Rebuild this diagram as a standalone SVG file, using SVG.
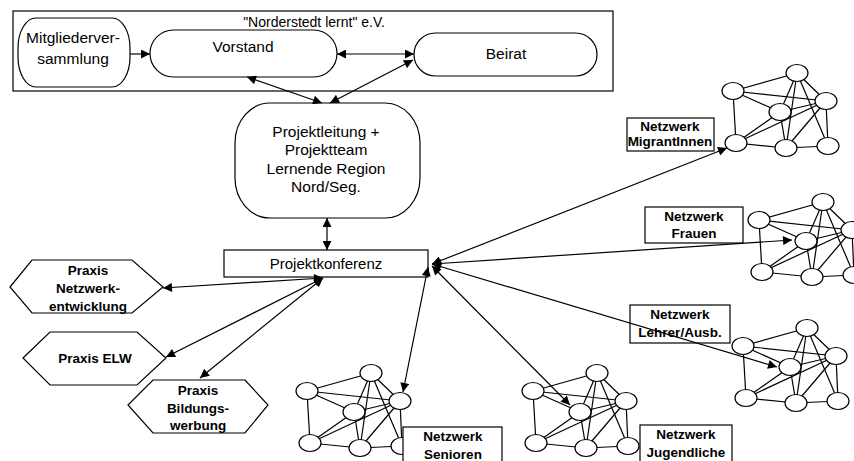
<svg xmlns="http://www.w3.org/2000/svg" xmlns:xlink="http://www.w3.org/1999/xlink" width="854" height="461" viewBox="0 0 854 461">
<style>
.s{fill:#fff;stroke:#000;stroke-width:1.2}
.n{fill:none;stroke:#000;stroke-width:1.2}
.t{font-family:"Liberation Sans",Arial,sans-serif;font-size:15.5px;fill:#000;text-anchor:middle}
.b{font-family:"Liberation Sans",Arial,sans-serif;font-size:13.5px;font-weight:bold;fill:#000;text-anchor:middle}
.c line{stroke:#000;stroke-width:1.2;marker-end:url(#ah)}
.c .d{marker-start:url(#ah)}
.g line{stroke:#000;stroke-width:1.2}
.g ellipse{fill:#fff;stroke:#000;stroke-width:1.2}
</style>
<defs>
<marker id="ah" viewBox="0 0 10 10" refX="10" refY="5" markerWidth="11" markerHeight="9" markerUnits="userSpaceOnUse" orient="auto-start-reverse"><path d="M0,0 L10,5 L0,10 z" fill="#000"/></marker>
<g id="net" class="g">
<line x1="64" y1="0" x2="0" y2="18"/>
<line x1="0" y1="18" x2="93" y2="28"/>
<line x1="0" y1="18" x2="47" y2="39"/>
<line x1="0" y1="18" x2="3" y2="70"/>
<line x1="64" y1="0" x2="47" y2="39"/>
<line x1="64" y1="0" x2="93" y2="28"/>
<line x1="64" y1="0" x2="53" y2="75"/>
<line x1="64" y1="0" x2="95" y2="73"/>
<line x1="93" y1="28" x2="47" y2="39"/>
<line x1="93" y1="28" x2="3" y2="70"/>
<line x1="93" y1="28" x2="53" y2="75"/>
<line x1="93" y1="28" x2="95" y2="73"/>
<line x1="47" y1="39" x2="3" y2="70"/>
<line x1="47" y1="39" x2="53" y2="75"/>
<line x1="3" y1="70" x2="53" y2="75"/>
<line x1="53" y1="75" x2="95" y2="73"/>
<ellipse cx="64" cy="0" rx="11" ry="8.5"/>
<ellipse cx="0" cy="18" rx="11" ry="8.5"/>
<ellipse cx="93" cy="28" rx="11" ry="8.5"/>
<ellipse cx="47" cy="39" rx="11" ry="8.5"/>
<ellipse cx="3" cy="70" rx="11" ry="8.5"/>
<ellipse cx="53" cy="75" rx="11" ry="8.5"/>
<ellipse cx="95" cy="73" rx="11" ry="8.5"/>
</g>
</defs>
<rect width="854" height="461" fill="#fff"/>

<g id="verein">
<rect class="n" x="13" y="11" width="600" height="80"/>
<text class="t" x="314" y="27" style="font-size:14px">"Norderstedt lernt" e.V.</text>
</g>
<g id="mitglieder">
<rect class="s" x="18" y="18" width="112" height="69" rx="18" ry="30"/>
<text class="t" x="73" y="43">Mitgliederver-</text>
<text class="t" x="73" y="64">sammlung</text>
</g>
<g id="vorstand">
<rect class="s" x="150" y="30" width="187" height="47" rx="23.5"/>
<text class="t" x="243" y="52">Vorstand</text>
</g>
<g id="beirat">
<rect class="s" x="414" y="33" width="183" height="43" rx="21.5"/>
<text class="t" x="506" y="59">Beirat</text>
</g>
<g id="projektleitung">
<rect class="s" x="235" y="103" width="185" height="115" rx="35" ry="40"/>
<text class="t" x="326" y="137">Projektleitung +</text>
<text class="t" x="326" y="155">Projektteam</text>
<text class="t" x="326" y="174">Lernende Region</text>
<text class="t" x="326" y="192">Nord/Seg.</text>
</g>
<g id="projektkonferenz">
<rect class="s" x="224" y="250" width="204" height="27"/>
<text class="t" x="326" y="269" style="font-size:15px">Projektkonferenz</text>
</g>

<g id="praxis-netzwerk">
<polygon class="s" points="10,287 32,260 132,260 163,287 132,313 32,313"/>
<text class="b" x="88" y="275">Praxis</text>
<text class="b" x="88" y="293">Netzwerk-</text>
<text class="b" x="88" y="311">entwicklung</text>
</g>
<g id="praxis-elw">
<polygon class="s" points="23,358 50,332 137,332 166,358 137,385 50,385"/>
<text class="b" x="95" y="363">Praxis ELW</text>
</g>
<g id="praxis-bildung">
<polygon class="s" points="128,405 153,380 245,380 268,405 245,433 153,433"/>
<text class="b" x="198" y="395">Praxis</text>
<text class="b" x="198" y="413">Bildungs-</text>
<text class="b" x="198" y="430">werbung</text>
</g>

<g id="netz-migrant">
<use xlink:href="#net" href="#net" x="733" y="73"/>
<rect class="s" x="627" y="118" width="87" height="33"/>
<text class="b" x="670" y="131">Netzwerk</text>
<text class="b" x="670" y="146">MigrantInnen</text>
</g>
<g id="netz-frauen">
<use xlink:href="#net" href="#net" x="759" y="202"/>
<rect class="s" x="645" y="207" width="98" height="36"/>
<text class="b" x="694" y="221">Netzwerk</text>
<text class="b" x="694" y="238">Frauen</text>
</g>
<g id="netz-lehrer">
<use xlink:href="#net" href="#net" x="743" y="328"/>
<rect class="s" x="630" y="305" width="100" height="38"/>
<text class="b" x="680" y="319">Netzwerk</text>
<text class="b" x="680" y="337">Lehrer/Ausb.</text>
</g>
<g id="netz-senioren">
<use xlink:href="#net" href="#net" x="307" y="373"/>
<rect class="s" x="403" y="427" width="99" height="40"/>
<text class="b" x="453" y="441">Netzwerk</text>
<text class="b" x="453" y="459">Senioren</text>
</g>
<g id="netz-jugend">
<use xlink:href="#net" href="#net" x="533" y="373"/>
<rect class="s" x="640" y="425" width="92" height="40"/>
<text class="b" x="686" y="439">Netzwerk</text>
<text class="b" x="686" y="457">Jugendliche</text>
</g>

<g id="connectors" class="c">
<line x1="130" y1="54" x2="150" y2="54"/>
<line class="d" x1="337" y1="54" x2="414" y2="54"/>
<line class="d" x1="247" y1="77" x2="322" y2="103"/>
<line class="d" x1="413" y1="60" x2="330" y2="103"/>
<line class="d" x1="327" y1="218" x2="327" y2="250"/>
<line class="d" x1="323" y1="278" x2="163" y2="288"/>
<line class="d" x1="323" y1="278" x2="166" y2="357"/>
<line class="d" x1="323" y1="278" x2="200" y2="378"/>
<line class="d" x1="432" y1="264" x2="727" y2="148"/>
<line class="d" x1="432" y1="264" x2="792" y2="240"/>
<line class="d" x1="432" y1="264" x2="777" y2="367"/>
<line class="d" x1="428" y1="267" x2="403" y2="392"/>
<line class="d" x1="432" y1="266" x2="570" y2="405"/>
</g>
</svg>
